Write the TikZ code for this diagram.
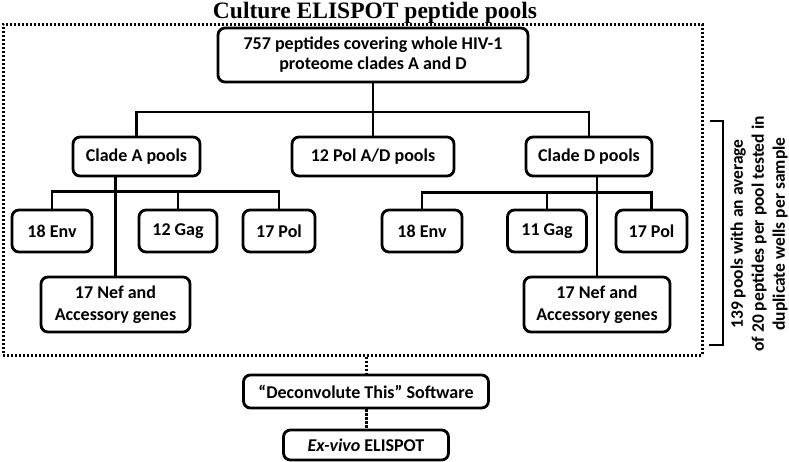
\documentclass[tikz,border=0pt]{standalone}
\usepackage{fontspec}
\setmainfont{Carlito}
\newfontfamily\titlefont{Liberation Serif}
\usetikzlibrary{positioning}

\begin{document}
\begin{tikzpicture}[x=1pt,y=-1pt,
 pool/.style={draw,line width=2.8pt,rounded corners=7pt,align=center,inner sep=0pt,
  font=\bfseries\fontsize{18}{20}\selectfont},
 link/.style={line width=2.8pt},
 dots/.style={line width=3pt,dash pattern=on 2.4pt off 1.6pt}]
 \useasboundingbox (0,0) rectangle (789,461);
 \node[anchor=base,inner sep=0pt,font=\titlefont\bfseries\fontsize{23.5}{26}\selectfont] (title) at (375,18.5) {Culture ELISPOT peptide pools};
 \node[draw,dots,minimum width=699pt,minimum height=331pt,inner sep=0pt] (frame) at (352.5,189.5) {};
 % top of the tree
 \node[pool,minimum width=310pt,minimum height=54pt] (p_all) at (373,55) {757 peptides covering whole HIV-1\\proteome clades A and D};
 \node[pool,minimum width=127pt,minimum height=39pt] (p_A) at (136.5,156.5) {Clade A pools};
 \node[pool,minimum width=162pt,minimum height=39pt] (p_AD) at (373,156.5) {12 Pol A/D pools};
 \node[pool,minimum width=126pt,minimum height=39pt] (p_D) at (589,156.5) {Clade D pools};
 % clade A
 \node[pool,minimum width=80pt,minimum height=42pt] (p_Aenv) at (52,231) {18 Env};
 \node[pool,minimum width=78pt,minimum height=42pt] (p_Agag) at (178,231) {12 Gag};
 \node[pool,minimum width=72pt,minimum height=42pt] (p_Apol) at (279,231) {17 Pol};
 \node[pool,minimum width=149pt,minimum height=55pt] (p_Anef) at (115.5,304.5) {17 Nef and\\[2pt]Accessory genes};
 % clade D
 \node[pool,minimum width=80pt,minimum height=42pt] (p_Denv) at (422,231) {18 Env};
 \node[pool,minimum width=79pt,minimum height=42pt] (p_Dgag) at (547,231) {11 Gag};
 \node[pool,minimum width=71pt,minimum height=42pt] (p_Dpol) at (651.5,231) {17 Pol};
 \node[pool,minimum width=146pt,minimum height=55pt] (p_Dnef) at (597,304.5) {17 Nef and\\[2pt]Accessory genes};
 % below the frame
 \node[pool,minimum width=245pt,minimum height=33pt] (soft) at (366,391.5) {“Deconvolute This” Software};
 \node[pool,minimum width=165pt,minimum height=30pt] (exvivo) at (366,445) {\textit{Ex-vivo} ELISPOT};

 \coordinate (bar) at (373,112);
 \draw[link] (p_all) -- (p_AD);
 \draw[link] (p_A.north) |- (bar) -| (p_D.north);
 \draw[link] (p_Anef.north |- p_A.south) -- (p_Anef.north);
 \draw[link] (p_Aenv.north) -- ++(0,-17) -| (p_Apol.north);
 \draw[link] (p_Agag.north) -- ++(0,-17);
 \draw[link] (p_Dnef.north |- p_D.south) -- (p_Dnef.north);
 \draw[link] (p_Denv.north) -- ++(0,-16) -| (p_Dpol.north);
 \draw[link] (p_Dgag.north) -- ++(0,-16);
 \draw[dots] (soft.north |- frame.south) -- (soft);
 \draw[dots] (soft) -- (exvivo);

 % bracket and note
 \coordinate (br_top) at (710,121);
 \coordinate (br_bot) at (709,345);
 \draw[link,line width=2.6pt] (br_top) -- ++(13,0) |- (br_bot);
 \node[rotate=90,align=center,font=\bfseries\fontsize{17.5}{21}\selectfont] (note) at (759,234)
  {139 pools with an average\\of 20 peptides per pool tested in\\duplicate wells per sample};
\end{tikzpicture}
\end{document}
